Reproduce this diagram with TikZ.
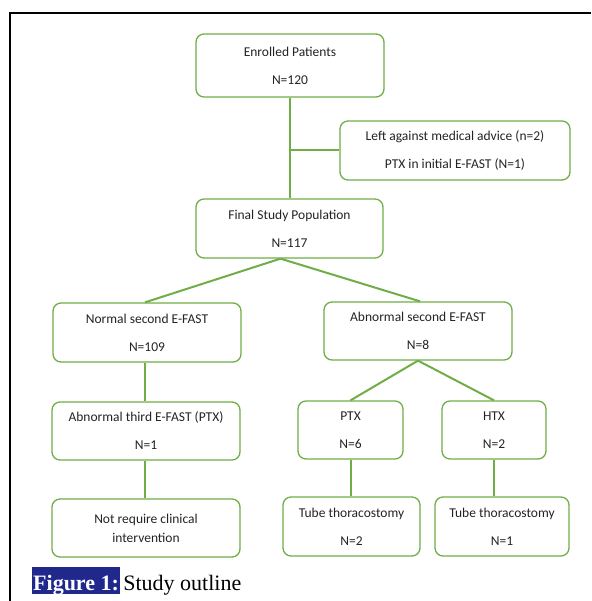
\documentclass[tikz,border=0pt]{standalone}
\usepackage{fontspec}
\setmainfont{Carlito}
\newfontfamily\capfont{Liberation Serif}
\usetikzlibrary{positioning}
\definecolor{boxgreen}{RGB}{112,173,71}
\definecolor{capblue}{RGB}{32,40,140}
\definecolor{boxtext}{RGB}{35,35,35}
\tikzset{
  box/.style={draw=boxgreen,line width=1.3pt,rounded corners=8pt,align=center,inner sep=0pt,text=boxtext,font={\fontsize{13.5}{28}\selectfont}},
  link/.style={draw=boxgreen,line width=2pt},
  capt/.style={font={\capfont\fontsize{22}{22}\selectfont},inner sep=0pt,text height=23pt,text depth=4pt}
}
\begin{document}
\begin{tikzpicture}[x=1pt,y=-1pt]
\useasboundingbox (0,0) rectangle (591,601);
\draw[line width=2pt] (10,601) -- (10,13) -- (591,13);
\node at (290,65.5) [box,minimum width=188pt,minimum height=63pt] (enrolled) {Enrolled Patients\\N=120};
\node at (455,150.5) [box,minimum width=230pt,minimum height=59pt] (left) {Left against medical advice (n=2)\\PTX in initial E-FAST (N=1)};
\node at (289.5,228.5) [box,minimum width=187pt,minimum height=59pt] (final) {Final Study Population\\N=117};
\node at (147,332.5) [box,minimum width=188pt,minimum height=59pt] (normal) {Normal second E-FAST\\N=109};
\node at (418,331) [box,minimum width=188pt,minimum height=58pt] (abnormal) {Abnormal second E-FAST\\N=8};
\node at (146,431) [box,minimum width=188pt,minimum height=58pt] (third) {Abnormal third E-FAST (PTX)\\N=1};
\node at (350.5,430) [box,minimum width=105pt,minimum height=58pt] (ptx) {PTX\\N=6};
\node at (494,430) [box,minimum width=104pt,minimum height=58pt] (htx) {HTX\\N=2};
\node at (146,528) [box,minimum width=188pt,minimum height=58pt,font={\fontsize{13.5}{19}\selectfont}] (noint) {Not require clinical\\intervention};
\node at (351.5,526.5) [box,minimum width=137pt,minimum height=59pt] (tubeptx) {Tube thoracostomy\\N=2};
\node at (502,526.5) [box,minimum width=134pt,minimum height=59pt] (tubehtx) {Tube thoracostomy\\N=1};
\draw[link] (enrolled.south) -- (enrolled.south |- final.north);
\draw[link] (enrolled.south |- left.west) -- (left.west);
\coordinate (split) at ([xshift=-9pt]final.south);
\draw[link] (split) -- ([xshift=-2pt]normal.north);
\draw[link] (split) -- ([xshift=2pt]abnormal.north);
\coordinate (leftstem) at ([xshift=-2pt]normal.south);
\draw[link] (leftstem) -- (leftstem |- third.north);
\draw[link] (leftstem |- third.south) -- (leftstem |- noint.north);
\draw[link] (abnormal.south) -- (ptx.north);
\draw[link] (abnormal.south) -- (htx.north);
\draw[link] (ptx.south) -- (ptx.south |- tubeptx.north);
\draw[link] (htx.south) -- (htx.south |- tubehtx.north);
\node at (32,567) [capt,anchor=north west,fill=capblue,text=white,inner xsep=1pt,font={\capfont\bfseries\fontsize{22}{22}\selectfont}] (figlabel) {Figure 1:};
\node [capt,right=3pt of figlabel] (figtitle) {Study outline};
\end{tikzpicture}
\end{document}
